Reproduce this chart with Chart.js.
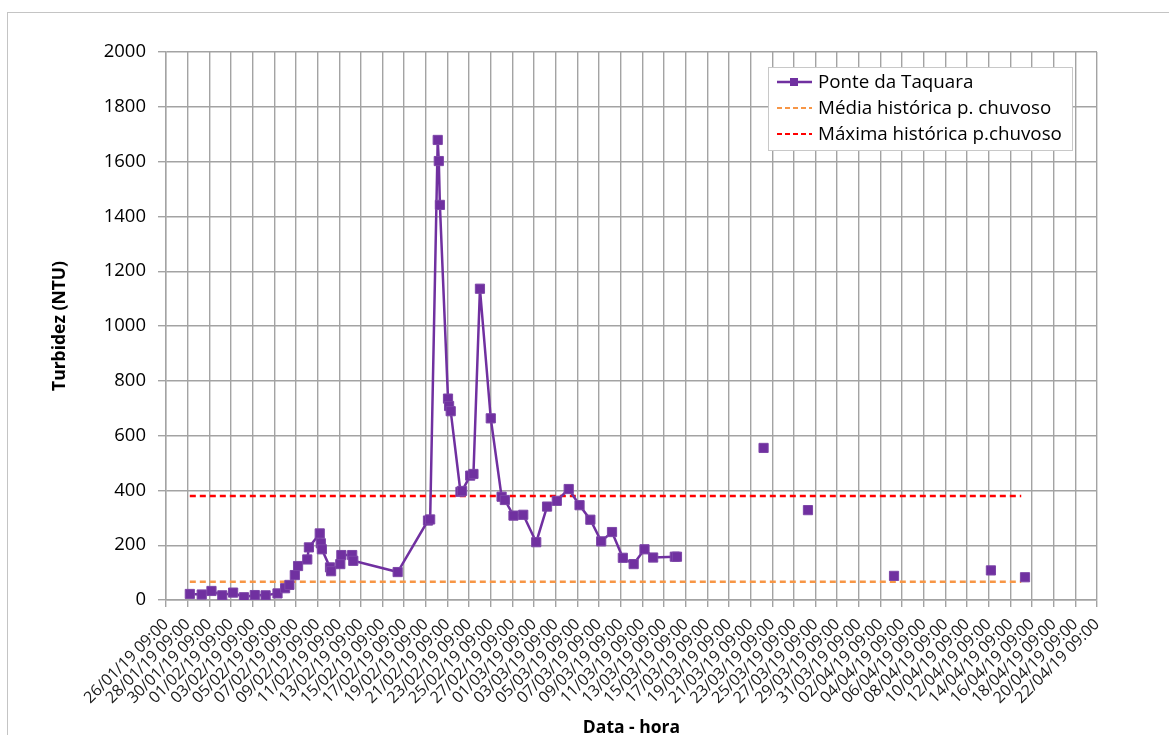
<!DOCTYPE html>
<html>
<head>
<meta charset="utf-8">
<script src="https://cdn.jsdelivr.net/npm/chart.js@4.4.1/dist/chart.umd.min.js"></script>
<style>
  html, body { margin: 0; padding: 0; background: #fff; }
  #wrap { position: relative; width: 1169px; height: 735px; overflow: hidden; }
  #frame { position: absolute; left: 7px; top: 12px; width: 1200px; height: 800px; border: 1px solid #c4c4c4; box-sizing: border-box; }
  canvas { position: absolute; left: 0; top: 0; }
</style>
</head>
<body>
<div id="wrap">
  <div id="frame"></div>
  <canvas id="turbChart" width="1169" height="739"></canvas>
</div>
<script>
// dias contados a partir de 26/01/19 09:00
const dias = [
  2.2, 3.3, 4.2, 5.2, 6.2, 7.2, 8.2, 9.2, 10.3, 11.0, 11.4, 11.9, 12.2,
  13.05, 13.2, 14.2, 14.3, 14.4, 15.15, 15.25, 16.1, 16.2, 17.2, 17.3, 21.4,
  24.2, 24.4, 25.1, 25.2, 25.3, 26.05, 26.15, 26.3, 27.2, 27.35, 28.1, 28.4,
  29.0, 30.0, 31.0, 31.3, 32.1, 33.0, 34.2, 35.2, 36.1, 37.2, 38.2, 39.2,
  40.2, 41.2, 42.2, 43.2, 44.2, 45.0, 47.0, 47.2,
  50, 55.2, 57, 59.3, 63, 67.25, 72, 76.2, 78, 79.35
];
const turbidez = [
  22, 20, 33, 17, 27, 10, 18, 17, 24, 43, 55, 91, 124,
  148, 192, 243, 207, 185, 119, 105, 131, 164, 164, 143, 102,
  290, 294, 1679, 1602, 1442, 735, 708, 689, 395, 398, 454, 460,
  1136, 663, 377, 365, 308, 311, 211, 341, 362, 405, 346, 293,
  214, 248, 154, 131, 185, 155, 158, 158,
  null, 555, null, 328, null, 88, null, 108, null, 83
];

const mediaHistorica = 67;
const maximaHistorica = 380;
const refInicio = 2.2;
const refFim = 79.0;

const tickLabels = [
  "26/01/19 09:00", "28/01/19 09:00", "30/01/19 09:00", "01/02/19 09:00",
  "03/02/19 09:00", "05/02/19 09:00", "07/02/19 09:00", "09/02/19 09:00",
  "11/02/19 09:00", "13/02/19 09:00", "15/02/19 09:00", "17/02/19 09:00",
  "19/02/19 09:00", "21/02/19 09:00", "23/02/19 09:00", "25/02/19 09:00",
  "27/02/19 09:00", "01/03/19 09:00", "03/03/19 09:00", "05/03/19 09:00",
  "07/03/19 09:00", "09/03/19 09:00", "11/03/19 09:00", "13/03/19 09:00",
  "15/03/19 09:00", "17/03/19 09:00", "19/03/19 09:00", "21/03/19 09:00",
  "23/03/19 09:00", "25/03/19 09:00", "27/03/19 09:00", "29/03/19 09:00",
  "31/03/19 09:00", "02/04/19 09:00", "04/04/19 09:00", "06/04/19 09:00",
  "08/04/19 09:00", "10/04/19 09:00", "12/04/19 09:00", "14/04/19 09:00",
  "16/04/19 09:00", "18/04/19 09:00", "20/04/19 09:00", "22/04/19 09:00"
];

const PURPLE = "#7030a0";
const ORANGE = "#f79646";
const RED = "#ff0000";
const GRID = "#a3a3a3";
const FONT = "'Open Sans', 'Noto Sans', sans-serif";

// legenda desenhada dentro da area do grafico (canto superior direito)
const legendBox = {
  id: "legendBox",
  afterDraw(chart) {
    const ctx = chart.ctx;
    const area = chart.chartArea;
    const w = 304, h = 83;
    const x0 = area.right - 25 - w;
    const y0 = area.top + 15;
    ctx.save();
    ctx.fillStyle = "#fff";
    ctx.fillRect(x0, y0, w, h);
    ctx.strokeStyle = "#c8c8c8";
    ctx.lineWidth = 1;
    ctx.strokeRect(x0 + 0.5, y0 + 0.5, w, h);

    const items = [
      { text: "Ponte da Taquara", color: PURPLE, dash: [], marker: true, width: 2.5 },
      { text: "Média histórica p. chuvoso", color: ORANGE, dash: [5, 3], marker: false, width: 2 },
      { text: "Máxima histórica p.chuvoso", color: RED, dash: [5, 3], marker: false, width: 2 },
    ];
    ctx.font = "18.8px " + FONT;
    ctx.textBaseline = "middle";
    items.forEach((it, i) => {
      const yy = y0 + 15 + i * 26;
      ctx.beginPath();
      ctx.setLineDash(it.dash);
      ctx.strokeStyle = it.color;
      ctx.lineWidth = it.width;
      ctx.moveTo(x0 + 9, yy);
      ctx.lineTo(x0 + 44, yy);
      ctx.stroke();
      ctx.setLineDash([]);
      if (it.marker) {
        ctx.fillStyle = it.color;
        ctx.fillRect(x0 + 22, yy - 4, 8, 8);
      }
      ctx.fillStyle = "#000";
      ctx.fillText(it.text, x0 + 50, yy + 1);
    });
    ctx.restore();
  },
};

const ctx = document.getElementById("turbChart").getContext("2d");

new Chart(ctx, {
  type: "line",
  data: {
    datasets: [
      {
        label: "Ponte da Taquara",
        data: dias.map((d, i) => ({ x: d, y: turbidez[i] })),
        borderColor: PURPLE,
        backgroundColor: PURPLE,
        borderWidth: 2.5,
        pointStyle: "rect",
        pointRadius: 6.5,
        pointBorderWidth: 1,
        pointBorderColor: "#7d46a8",
        spanGaps: false,
        tension: 0,
      },
      {
        label: "Média histórica p. chuvoso",
        data: [{ x: refInicio, y: mediaHistorica }, { x: refFim, y: mediaHistorica }],
        borderColor: ORANGE,
        borderWidth: 2.5,
        borderDash: [6, 4],
        pointRadius: 0,
      },
      {
        label: "Máxima histórica p.chuvoso",
        data: [{ x: refInicio, y: maximaHistorica }, { x: refFim, y: maximaHistorica }],
        borderColor: RED,
        borderWidth: 2.5,
        borderDash: [6, 4],
        pointRadius: 0,
      },
    ],
  },
  options: {
    responsive: false,
    animation: false,
    layout: { padding: { left: 50, top: 52, right: 72, bottom: 0 } },
    plugins: {
      legend: { display: false },
      tooltip: { enabled: false },
    },
    scales: {
      x: {
        type: "linear",
        min: 0,
        max: 86,
        afterFit: (scale) => { scale.height = 139; },
        ticks: {
          stepSize: 2,
          autoSkip: false,
          minRotation: 45,
          maxRotation: 45,
          padding: 8,
          color: "#1a1a1a",
          font: { family: FONT, size: 16 },
          callback: (value) => tickLabels[value / 2],
        },
        grid: { color: GRID, lineWidth: 1.4, tickLength: 7 },
        border: { color: GRID, width: 1.4 },
        title: {
          display: true,
          text: "Data - hora",
          color: "#000",
          font: { family: FONT, size: 17.5, weight: "bold" },
          padding: { top: 0, bottom: 0 },
        },
      },
      y: {
        min: 0,
        max: 2000,
        afterFit: (scale) => { scale.width = 116; },
        ticks: {
          stepSize: 200,
          padding: 12,
          color: "#000",
          font: { family: FONT, size: 18.5 },
          callback: (value) => String(value),
        },
        grid: { color: GRID, lineWidth: 1.4, tickLength: 8 },
        border: { color: GRID, width: 1.4 },
        title: {
          display: true,
          text: "Turbidez (NTU)",
          color: "#000",
          font: { family: FONT, size: 17.5, weight: "bold" },
          padding: { top: 0, bottom: 0 },
        },
      },
    },
  },
  plugins: [legendBox],
});
</script>
</body>
</html>
